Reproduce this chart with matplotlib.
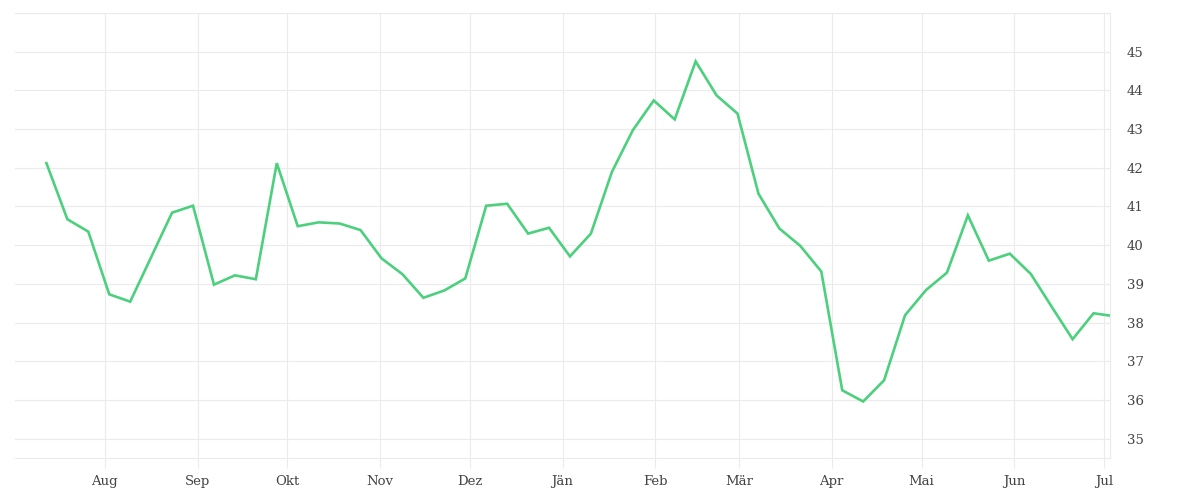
import matplotlib
matplotlib.use("Agg")
import matplotlib.pyplot as plt
import pandas as pd

# weekly values, last point is the partial week at the right edge
weekly_dates = list(pd.date_range("2022-07-12 12:00", periods=51, freq="7D"))
dates = weekly_dates + [pd.Timestamp("2023-07-03")]
values = [42.12, 40.67, 40.35, 38.73, 38.54, 39.69, 40.84, 41.02, 38.98, 39.22,
          39.12, 42.12, 40.49, 40.59, 40.56, 40.39, 39.66, 39.25, 38.64, 38.83,
          39.14, 41.02, 41.07, 40.30, 40.45, 39.71, 40.30, 41.89, 42.97, 43.74,
          43.25, 44.75, 43.87, 43.40, 41.33, 40.43, 39.98, 39.32, 36.25, 35.96,
          36.51, 38.19, 38.84, 39.29, 40.77, 39.60, 39.78, 39.26, 38.41, 37.57,
          38.24, 38.18]

month_ticks = pd.date_range("2022-08-01", "2023-07-01", freq="MS")
month_labels = ["Aug", "Sep", "Okt", "Nov", "Dez", "Jän", "Feb", "Mär",
                "Apr", "Mai", "Jun", "Jul"]
y_ticks = list(range(35, 46))

grid_col = "#ebebeb"
text_col = "#444444"

fig = plt.figure(figsize=(12, 5), dpi=100)
ax = fig.add_axes([0.0125, 0.084, 0.9125, 0.89])

ax.plot(dates, values, color="#4cd07d", lw=1.9, solid_joinstyle="miter", zorder=3)

ax.set_xlim(pd.Timestamp("2022-07-02"), pd.Timestamp("2023-07-03"))
ax.set_ylim(34.5, 46)

ax.set_xticks(month_ticks)
ax.set_xticklabels(month_labels)
ax.set_yticks(y_ticks)
ax.set_yticklabels([str(v) for v in y_ticks])
ax.yaxis.tick_right()

ax.grid(True, color=grid_col, lw=0.8, zorder=0)
ax.axhline(46, color=grid_col, lw=0.8, zorder=0)

for s in ["left"]:
    ax.spines[s].set_visible(False)
for s in ["top", "bottom", "right"]:
    ax.spines[s].set_color(grid_col)
    ax.spines[s].set_linewidth(0.8)

ax.tick_params(axis="x", length=7.5, width=0.8, color=grid_col, pad=5,
               labelsize=9.5, labelcolor=text_col)
ax.tick_params(axis="y", length=0, pad=12, labelsize=9.5, labelcolor=text_col)
for lab in ax.get_xticklabels() + ax.get_yticklabels():
    lab.set_family("DejaVu Serif")

fig.savefig("out.png", dpi=100)
